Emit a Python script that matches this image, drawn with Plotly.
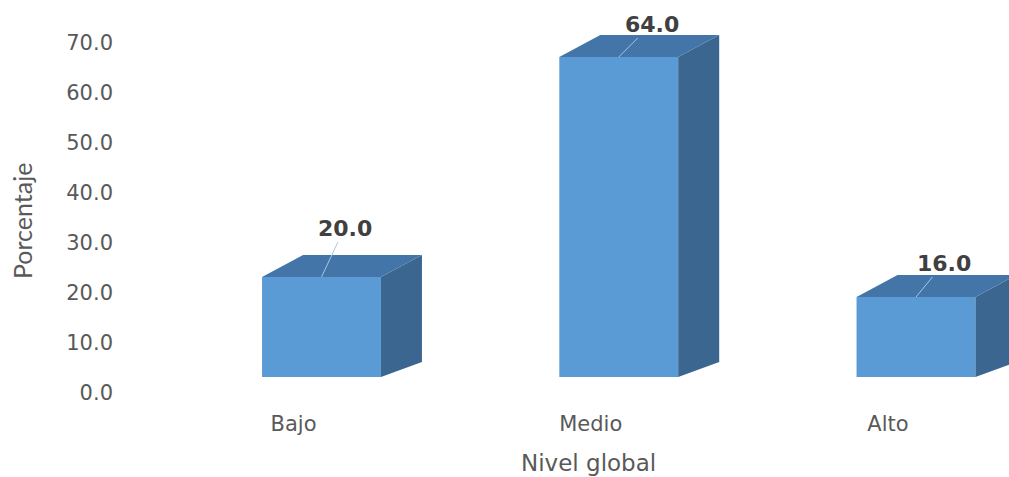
import plotly.graph_objects as go

# Distribution by overall level (percent)
categories = ["Bajo", "Medio", "Alto"]
percentages = [20.0, 64.0, 16.0]
y_ticks = [0, 10, 20, 30, 40, 50, 60, 70]

# Pixel geometry of the plot area
W, H = 1009, 477
M_L, M_R, M_T, M_B = 120, 0, 0, 77
PX_X = 297.25          # pixels per category step
PX_Y = 5.0             # pixels per percentage point
X0_PX = 201.5          # first category centre, from plot left
Y0_PX = 377.0          # baseline of front faces, from plot top
plot_w = W - M_L - M_R
plot_h = H - M_T - M_B
x_range = [-X0_PX / PX_X, (plot_w - X0_PX) / PX_X]
y_range = [-(plot_h - Y0_PX) / PX_Y, Y0_PX / PX_Y]

# 3-D extrusion of each block
BAR_W = 0.40
DX = 41 / PX_X         # depth offset to the right (category units)
DY_TOP = 22 / PX_Y     # depth offset upward at the top edge
DY_BOT = 15 / PX_Y     # depth offset upward at the bottom edge

FRONT = "#5b9bd5"
TOP = "#4475a8"
SIDE = "#3b6690"

xs = list(range(len(categories)))

side_x, side_y, top_x, top_y = [], [], [], []
for i, v in zip(xs, percentages):
    r = i + BAR_W / 2
    l = i - BAR_W / 2
    side_x += [r, r, r + DX, r + DX, r, None]
    side_y += [0, v, v + DY_TOP, DY_BOT, 0, None]
    top_x += [l, r, r + DX, l + DX, l, None]
    top_y += [v, v, v + DY_TOP, v + DY_TOP, v, None]

fig = go.Figure()
fig.add_trace(go.Scatter(x=side_x, y=side_y, mode="lines", fill="toself",
                         fillcolor=SIDE, line=dict(width=0, color=SIDE),
                         hoverinfo="skip", showlegend=False))
fig.add_trace(go.Scatter(x=top_x, y=top_y, mode="lines", fill="toself",
                         fillcolor=TOP, line=dict(width=0, color=TOP),
                         hoverinfo="skip", showlegend=False))
fig.add_trace(go.Bar(x=xs, y=percentages, width=BAR_W,
                     marker=dict(color=FRONT, line=dict(width=0)),
                     hoverinfo="skip", showlegend=False))

# Value labels with leader lines
label_offsets = [(23, -49), (33, -33), (28, -34)]
for i, v, (ax, ay) in zip(xs, percentages, label_offsets):
    fig.add_annotation(x=i, y=v, text=f"<b>{v:.1f}</b>", showarrow=True,
                       arrowhead=0, arrowwidth=1, arrowcolor="#a8c6e6",
                       ax=ax, ay=ay, standoff=0,
                       font=dict(family="DejaVu Sans", size=22, color="#404040"))

# Axis titles
fig.add_annotation(xref="paper", yref="paper",
                   x=(22 - M_L) / plot_w, y=1 - (221 - M_T) / plot_h,
                   text="Porcentaje", textangle=-90, showarrow=False,
                   xanchor="center", yanchor="middle",
                   font=dict(family="Lato", size=25, color="#595959"))
fig.add_annotation(xref="paper", yref="paper",
                   x=(588 - M_L) / plot_w, y=1 - (463 - M_T) / plot_h,
                   text="Nivel global", showarrow=False,
                   xanchor="center", yanchor="middle",
                   font=dict(family="DejaVu Sans", size=23, color="#595959"))

fig.update_layout(
    width=W, height=H,
    margin=dict(l=M_L, r=M_R, t=M_T, b=M_B),
    paper_bgcolor="white", plot_bgcolor="white",
    xaxis=dict(range=x_range, tickvals=xs, ticktext=categories,
               showgrid=False, zeroline=False, showline=False,
               ticklabelshift=-28, ticklabelstandoff=9,
               tickfont=dict(family="DejaVu Sans", size=21, color="#595959")),
    yaxis=dict(range=y_range, tickvals=y_ticks,
               ticktext=[f"{t:.1f}" for t in y_ticks],
               showgrid=False, zeroline=False, showline=False,
               ticklabelshift=16, ticklabelstandoff=6,
               tickfont=dict(family="DejaVu Sans", size=21, color="#595959")),
)

fig.write_html("out.html")
